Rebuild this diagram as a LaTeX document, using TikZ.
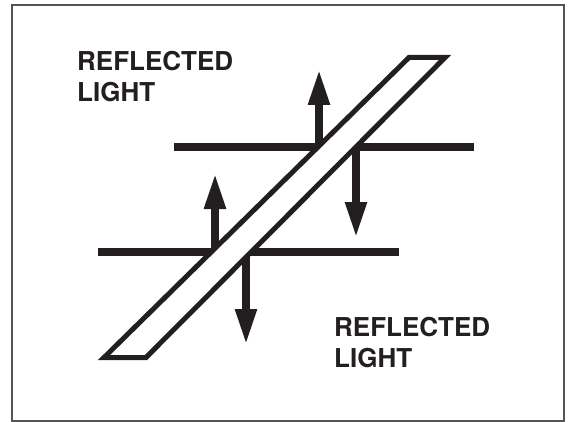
\documentclass[tikz,border=0pt]{standalone}
\usepackage{fontspec}
\setmainfont{TeX Gyre Heros}
\usetikzlibrary{arrows.meta}
\definecolor{RLInk}{HTML}{231F20}
\definecolor{RLFrame}{HTML}{555555}
\tikzset{
  beam/.style={RLInk,line width=8pt},
  ray/.style={-{Triangle[length=36pt,width=20pt]},RLInk,line width=8pt},
  slab/.style={draw=RLInk,fill=white,line width=5pt,line join=miter},
  caption/.style={text=RLInk,font=\fontsize{26}{31}\selectfont\bfseries,
                  align=left,inner sep=0pt,anchor=north west},
}
\begin{document}
\begin{tikzpicture}[x=1pt,y=-1pt]
  \useasboundingbox (0,0) rectangle (569,422);
  \draw[RLFrame,line width=1.5pt] (12,5) rectangle (564,421);

  % the two surfaces
  \coordinate (upL) at (174,147);
  \coordinate (upR) at (474,147);
  \coordinate (loL) at (98,252);
  \coordinate (loR) at (399,252);
  \draw[beam] (upL) -- (upR);
  \draw[beam] (loL) -- (loR);

  % reflected rays
  \coordinate (upA) at (319,147);  \coordinate (upAtip) at (319,69);
  \coordinate (upB) at (356,147);  \coordinate (upBtip) at (356,238);
  \coordinate (loA) at (215,252);  \coordinate (loAtip) at (215,173);
  \coordinate (loB) at (246,252);  \coordinate (loBtip) at (246,345);
  \draw[ray] (upA) -- (upAtip);
  \draw[ray] (upB) -- (upBtip);
  \draw[ray] (loA) -- (loAtip);
  \draw[ray] (loB) -- (loBtip);

  % the slab lies over everything
  \draw[slab] (104,357.5) -- (146,357.5) -- (445,57.5) -- (409,57.5) -- cycle;

  \node[caption] (capTop) at (77,51) {REFLECTED\\LIGHT};
  \node[caption] (capBot) at (334,317) {REFLECTED\\LIGHT};
\end{tikzpicture}
\end{document}
